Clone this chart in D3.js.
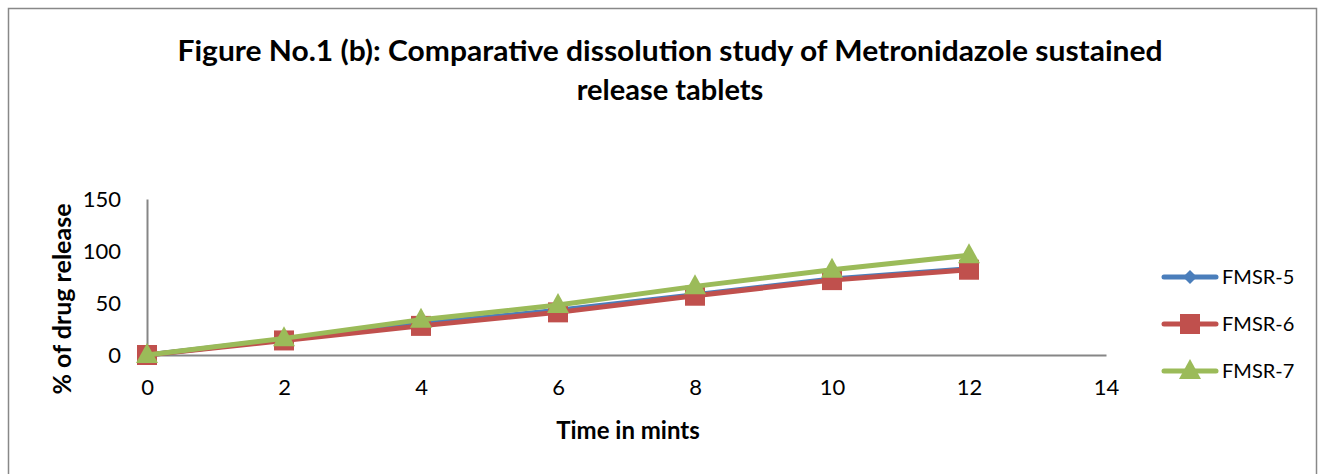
<!DOCTYPE html>
<html><head><meta charset="utf-8">
<script src="https://cdn.jsdelivr.net/npm/d3@7"></script>
<style>body{margin:0;background:#fff}svg{display:block}text{font-family:Lato,"Open Sans",sans-serif}</style>
</head><body>
<script>
const times = [0, 2, 4, 6, 8, 10, 12];
const fmsr5 = [0, 15, 30, 43, 58, 73, 83];
const fmsr6 = [0, 14, 28, 41, 57, 72, 82];
const fmsr7 = [0, 16, 34, 48, 66, 82, 96];
const xTicks = [0, 2, 4, 6, 8, 10, 12, 14];
const yTicks = [0, 50, 100, 150];
const seriesNames = ["FMSR-5", "FMSR-6", "FMSR-7"];
const seriesColors = ["#4a7ebb", "#c0504d", "#9bbb59"];
const seriesShapes = ["diamond", "square", "triangle"];
const seriesData = [fmsr5, fmsr6, fmsr7];

const W = 1323, H = 474;
const svg = d3.select("body").append("svg").attr("width", W).attr("height", H);
svg.append("rect").attr("x", 8.5).attr("y", 8.5).attr("width", 1308).attr("height", 480)
  .attr("fill", "#fff").attr("stroke", "#888").attr("stroke-width", 1.5);

const x = d3.scaleLinear().domain([0, 14]).range([147, 1106]);
const y = d3.scaleLinear().domain([0, 150]).range([355, 199]);

// title
svg.append("text").attr("x", 670).attr("y", 61).attr("text-anchor", "middle")
  .attr("font-size", 29).attr("font-weight", "bold").attr("fill", "#000")
  .attr("textLength", 985).attr("lengthAdjust", "spacingAndGlyphs")
  .text("Figure No.1 (b): Comparative dissolution study of Metronidazole sustained");
svg.append("text").attr("x", 670).attr("y", 100).attr("text-anchor", "middle")
  .attr("font-size", 29).attr("font-weight", "bold").attr("fill", "#000")
  .text("release tablets");

// axes
const gx = svg.append("g").attr("transform", `translate(0,${y(0)})`)
  .call(d3.axisBottom(x).tickValues(xTicks).tickSize(0).tickPadding(24).tickFormat(d3.format("d")));
const gy = svg.append("g").attr("transform", `translate(${x(0)},0)`)
  .call(d3.axisLeft(y).tickValues(yTicks).tickSize(0).tickPadding(26).tickFormat(d3.format("d")));
[gx, gy].forEach(g => {
  g.select(".domain").attr("stroke", "#868686").attr("stroke-width", 2);
  g.selectAll("text").attr("font-size", 22).attr("fill", "#000").attr("font-family", "Lato, sans-serif");
});

svg.append("text").attr("x", 628).attr("y", 439).attr("text-anchor", "middle")
  .attr("font-size", 24).attr("font-weight", "bold").text("Time in mints");
svg.append("text").attr("transform", "translate(71,299) rotate(-90)").attr("text-anchor", "middle")
  .attr("font-size", 25).attr("font-weight", "bold").text("% of drug release");

function marker(g, shape, color, cx, cy) {
  if (shape === "diamond") {
    g.append("path").attr("d", `M${cx},${cy-7}L${cx+7},${cy}L${cx},${cy+7}L${cx-7},${cy}Z`).attr("fill", color);
  } else if (shape === "square") {
    g.append("rect").attr("x", cx-10).attr("y", cy-10).attr("width", 20).attr("height", 20).attr("fill", color);
  } else {
    g.append("path").attr("d", `M${cx},${cy-12}L${cx+11},${cy+8}L${cx-11},${cy+8}Z`).attr("fill", color);
  }
}

const line = d3.line().x((d, i) => x(times[i])).y(d => y(d));
seriesData.forEach((vals, k) => {
  const g = svg.append("g");
  g.append("path").datum(vals).attr("d", line).attr("fill", "none")
    .attr("stroke", seriesColors[k]).attr("stroke-width", 5).attr("stroke-linejoin", "round");
  vals.forEach((v, i) => marker(g, seriesShapes[k], seriesColors[k], x(times[i]), y(v)));
});

// legend
const legY = [277, 324, 371];
seriesNames.forEach((n, k) => {
  const g = svg.append("g");
  g.append("line").attr("x1", 1164).attr("x2", 1216).attr("y1", legY[k]).attr("y2", legY[k])
    .attr("stroke", seriesColors[k]).attr("stroke-width", 5).attr("stroke-linecap", "round");
  marker(g, seriesShapes[k], seriesColors[k], 1190, legY[k]);
  g.append("text").attr("x", 1222).attr("y", legY[k] + 7).attr("font-size", 20).text(n);
});
</script>
</body></html>
